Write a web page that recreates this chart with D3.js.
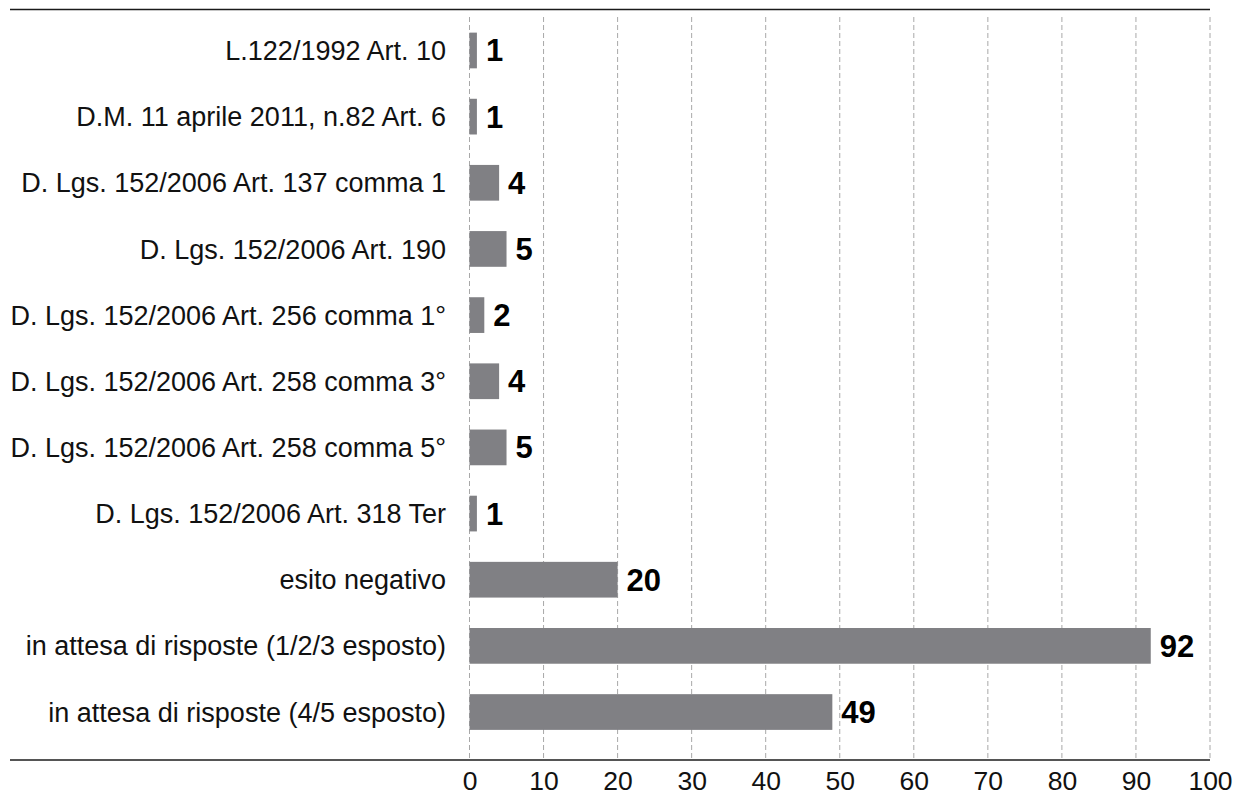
<!DOCTYPE html>
<html>
<head>
<meta charset="utf-8">
<script src="https://cdn.jsdelivr.net/npm/d3@7"></script>
<style>
  html, body { margin: 0; padding: 0; background: #fff; }
  svg { display: block; font-family: "Liberation Sans", Arial, Helvetica, sans-serif; }
</style>
</head>
<body>
<svg id="chart" width="1235" height="796"></svg>
<script>
// Esposti per riferimento normativo / esito
const categories = [
  "L.122/1992 Art. 10",
  "D.M. 11 aprile 2011, n.82 Art. 6",
  "D. Lgs. 152/2006 Art. 137 comma 1",
  "D. Lgs. 152/2006 Art. 190",
  "D. Lgs. 152/2006 Art. 256 comma 1°",
  "D. Lgs. 152/2006 Art. 258 comma 3°",
  "D. Lgs. 152/2006 Art. 258 comma 5°",
  "D. Lgs. 152/2006 Art. 318 Ter",
  "esito negativo",
  "in attesa di risposte (1/2/3 esposto)",
  "in attesa di risposte (4/5 esposto)"
];
const values = [1, 1, 4, 5, 2, 4, 5, 1, 20, 92, 49];
const tickValues = [0, 10, 20, 30, 40, 50, 60, 70, 80, 90, 100];

const svg = d3.select("#chart");

const x = d3.scaleLinear().domain([0, 100]).range([469.5, 1210]);
const y = d3.scaleBand()
  .domain(categories)
  .range([17.4, 745.1])
  .paddingInner(0.46)
  .paddingOuter(0.23);

// Dashed vertical gridlines
svg.append("g")
  .selectAll("line")
  .data(tickValues)
  .join("line")
  .attr("x1", d => x(d)).attr("x2", d => x(d))
  .attr("y1", 17).attr("y2", 760)
  .attr("stroke", "#a8a8a8")
  .attr("stroke-width", 1)
  .attr("stroke-dasharray", "5,3");

// Top rule
svg.append("line")
  .attr("x1", 10).attr("x2", 1210)
  .attr("y1", 9.5).attr("y2", 9.5)
  .attr("stroke", "#1a1a1a")
  .attr("stroke-width", 1.5);

// Bars
svg.append("g")
  .selectAll("rect")
  .data(values)
  .join("rect")
  .attr("x", x(0))
  .attr("y", (d, i) => y(categories[i]))
  .attr("width", d => x(d) - x(0))
  .attr("height", y.bandwidth())
  .attr("fill", "#808084");

// Value labels
svg.append("g")
  .selectAll("text")
  .data(values)
  .join("text")
  .attr("x", d => x(d) + 9)
  .attr("y", (d, i) => y(categories[i]) + y.bandwidth() / 2)
  .attr("dy", "0.355em")
  .attr("font-size", 31)
  .attr("font-weight", "bold")
  .attr("fill", "#000")
  .text(d => d);

// Category labels
svg.append("g")
  .selectAll("text")
  .data(categories)
  .join("text")
  .attr("x", 446)
  .attr("y", d => y(d) + y.bandwidth() / 2)
  .attr("dy", "0.355em")
  .attr("text-anchor", "end")
  .attr("font-size", 27)
  .attr("fill", "#111")
  .text(d => d);

// Bottom axis
const axis = d3.axisBottom(x).tickValues(tickValues).tickSize(0).tickPadding(0);
const gx = svg.append("g").attr("transform", "translate(0,760)").call(axis);
gx.select(".domain").remove();
gx.selectAll("text")
  .attr("y", 30)
  .attr("dy", 0)
  .attr("font-size", 26.5)
  .attr("font-family", "\"Liberation Sans\", Arial, Helvetica, sans-serif")
  .attr("fill", "#111");

svg.append("line")
  .attr("x1", 10).attr("x2", 1210)
  .attr("y1", 760).attr("y2", 760)
  .attr("stroke", "#555")
  .attr("stroke-width", 2);
</script>
</body>
</html>
